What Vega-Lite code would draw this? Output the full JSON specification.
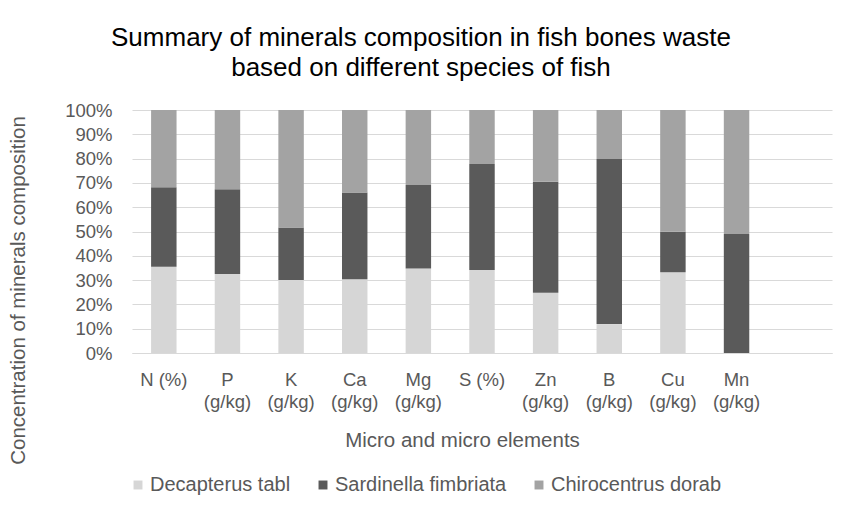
{
  "$schema": "https://vega.github.io/schema/vega-lite/v6.json",
  "width": 700,
  "height": 243,
  "autosize": {"type": "none"},
  "padding": {"left": 132, "top": 110, "right": 10, "bottom": 159},
  "background": "white",
  "title": {
    "text": ["Summary of minerals composition in fish bones waste", "based on different species of fish"],
    "font": "Liberation Sans",
    "fontSize": 26,
    "fontWeight": "normal",
    "color": "#000000",
    "anchor": "middle",
    "dx": -61,
    "offset": 20,
    "lineHeight": 30
  },
  "data": {
    "values": [
      {"element": "N (%)", "species": "Decapterus tabl", "idx": 1, "value": 35.5},
      {"element": "N (%)", "species": "Sardinella fimbriata", "idx": 2, "value": 32.7},
      {"element": "N (%)", "species": "Chirocentrus dorab", "idx": 3, "value": 31.8},
      {"element": "P (g/kg)", "species": "Decapterus tabl", "idx": 1, "value": 32.5},
      {"element": "P (g/kg)", "species": "Sardinella fimbriata", "idx": 2, "value": 34.9},
      {"element": "P (g/kg)", "species": "Chirocentrus dorab", "idx": 3, "value": 32.6},
      {"element": "K (g/kg)", "species": "Decapterus tabl", "idx": 1, "value": 30.0},
      {"element": "K (g/kg)", "species": "Sardinella fimbriata", "idx": 2, "value": 21.6},
      {"element": "K (g/kg)", "species": "Chirocentrus dorab", "idx": 3, "value": 48.4},
      {"element": "Ca (g/kg)", "species": "Decapterus tabl", "idx": 1, "value": 30.4},
      {"element": "Ca (g/kg)", "species": "Sardinella fimbriata", "idx": 2, "value": 35.6},
      {"element": "Ca (g/kg)", "species": "Chirocentrus dorab", "idx": 3, "value": 34.0},
      {"element": "Mg (g/kg)", "species": "Decapterus tabl", "idx": 1, "value": 34.8},
      {"element": "Mg (g/kg)", "species": "Sardinella fimbriata", "idx": 2, "value": 34.3},
      {"element": "Mg (g/kg)", "species": "Chirocentrus dorab", "idx": 3, "value": 30.9},
      {"element": "S (%)", "species": "Decapterus tabl", "idx": 1, "value": 34.2},
      {"element": "S (%)", "species": "Sardinella fimbriata", "idx": 2, "value": 43.6},
      {"element": "S (%)", "species": "Chirocentrus dorab", "idx": 3, "value": 22.2},
      {"element": "Zn (g/kg)", "species": "Decapterus tabl", "idx": 1, "value": 24.8},
      {"element": "Zn (g/kg)", "species": "Sardinella fimbriata", "idx": 2, "value": 45.7},
      {"element": "Zn (g/kg)", "species": "Chirocentrus dorab", "idx": 3, "value": 29.5},
      {"element": "B (g/kg)", "species": "Decapterus tabl", "idx": 1, "value": 11.9},
      {"element": "B (g/kg)", "species": "Sardinella fimbriata", "idx": 2, "value": 67.9},
      {"element": "B (g/kg)", "species": "Chirocentrus dorab", "idx": 3, "value": 20.2},
      {"element": "Cu (g/kg)", "species": "Decapterus tabl", "idx": 1, "value": 33.2},
      {"element": "Cu (g/kg)", "species": "Sardinella fimbriata", "idx": 2, "value": 16.7},
      {"element": "Cu (g/kg)", "species": "Chirocentrus dorab", "idx": 3, "value": 50.1},
      {"element": "Mn (g/kg)", "species": "Decapterus tabl", "idx": 1, "value": 0},
      {"element": "Mn (g/kg)", "species": "Sardinella fimbriata", "idx": 2, "value": 49.0},
      {"element": "Mn (g/kg)", "species": "Chirocentrus dorab", "idx": 3, "value": 51.0}
    ]
  },
  "mark": {"type": "bar"},
  "encoding": {
    "x": {
      "field": "element",
      "type": "nominal",
      "sort": null,
      "scale": {
        "domain": ["N (%)", "P (g/kg)", "K (g/kg)", "Ca (g/kg)", "Mg (g/kg)", "S (%)", "Zn (g/kg)", "B (g/kg)", "Cu (g/kg)", "Mn (g/kg)", ""],
        "paddingInner": 0.6,
        "paddingOuter": 0.3
      },
      "axis": {
        "title": "Micro and micro elements",
        "labelAngle": 0,
        "labelExpr": "(datum.label == 'N (%)' || datum.label == 'S (%)') ? datum.label : split(datum.label, ' ')",
        "labelLineHeight": 22,
        "labelPadding": 17,
        "ticks": false,
        "domain": true,
        "domainColor": "#d9d9d9",
        "titlePadding": 20,
        "titleX": 330
      }
    },
    "y": {
      "field": "value",
      "type": "quantitative",
      "stack": "normalize",
      "scale": {"domain": [0, 1]},
      "axis": {
        "title": "Concentration of minerals composition",
        "format": ".0%",
        "values": [0, 0.1, 0.2, 0.3, 0.4, 0.5, 0.6, 0.7, 0.8, 0.9, 1],
        "ticks": false,
        "domain": false,
        "grid": true,
        "gridColor": "#d9d9d9",
        "labelPadding": 20,
        "titlePadding": 36,
        "titleY": 180
      }
    },
    "color": {
      "field": "species",
      "type": "nominal",
      "scale": {
        "domain": ["Decapterus tabl", "Sardinella fimbriata", "Chirocentrus dorab"],
        "range": ["#d6d6d6", "#5a5a5a", "#a3a3a3"]
      },
      "legend": {
        "title": null,
        "orient": "none",
        "direction": "horizontal",
        "legendX": -4,
        "legendY": 365,
        "symbolType": "square",
        "symbolSize": 80,
        "symbolStrokeWidth": 0,
        "labelFontSize": 20,
        "labelLimit": 400,
        "labelColor": "#595959",
        "labelFont": "Liberation Sans",
        "labelOffset": 2,
        "columnPadding": 22
      }
    },
    "order": {"field": "idx", "type": "quantitative"}
  },
  "config": {
    "view": {"stroke": null},
    "axis": {
      "labelFont": "Liberation Sans",
      "labelFontSize": 18.5,
      "labelColor": "#595959",
      "titleFont": "Liberation Sans",
      "titleFontSize": 20.5,
      "titleFontWeight": "normal",
      "titleColor": "#595959"
    }
  }
}
